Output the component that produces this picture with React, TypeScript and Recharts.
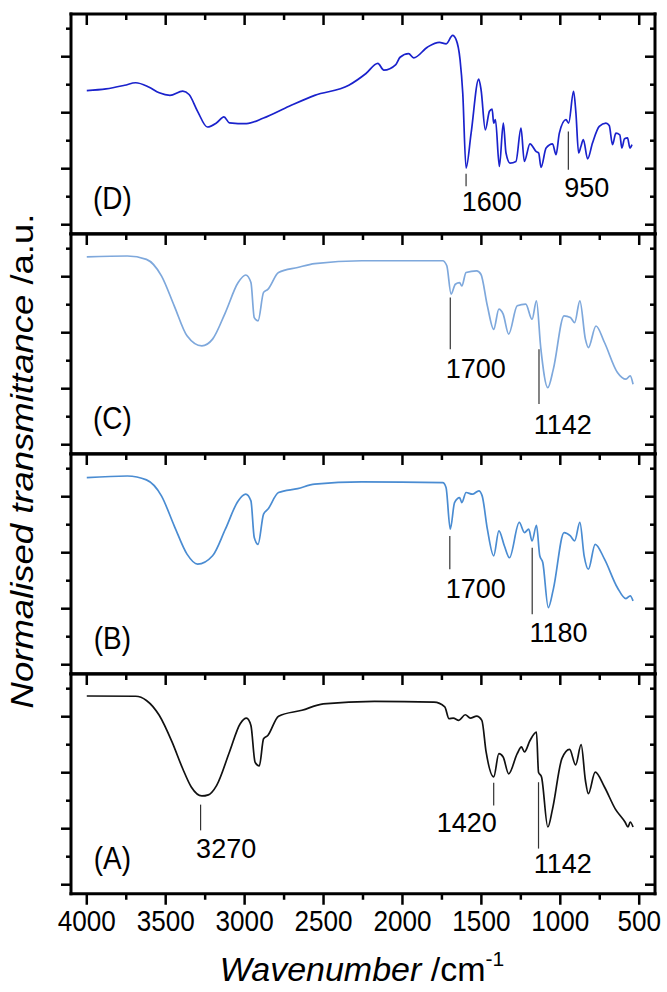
import React from 'react';
import { LineChart, Line, XAxis, YAxis, ReferenceLine, ReferenceDot } from 'recharts';

// ---------- data ----------
const xTicks = [4000, 3750, 3500, 3250, 3000, 2750, 2500, 2250, 2000, 1750, 1500, 1250, 1000, 750, 500];
const xTickLabels = [4000, 3500, 3000, 2500, 2000, 1500, 1000, 500];
const yTicks = [0, 1, 2, 3, 4, 5, 6, 7];

const wavenumberD = [4000, 3878, 3760, 3690, 3608, 3541, 3473, 3392, 3352, 3298, 3236, 3177, 3131, 3096, 2988, 2880, 2718, 2556, 2340, 2231, 2156, 2118, 2042, 2015, 1961, 1929, 1840, 1766, 1723, 1682, 1660, 1635, 1618, 1597, 1565, 1517, 1502, 1475, 1449, 1432, 1422, 1411, 1386, 1361, 1344, 1318, 1281, 1249, 1228, 1192, 1154, 1137, 1122, 1090, 1049, 1027, 1006, 964, 947, 916, 901, 884, 869, 854, 827, 796, 753, 711, 690, 669, 648, 623, 610, 593, 574, 559, 546];
const transmD = [4.79, 4.85, 4.98, 5.07, 4.92, 4.71, 4.62, 4.77, 4.65, 4.05, 3.49, 3.64, 3.85, 3.64, 3.61, 3.81, 4.23, 4.62, 4.98, 5.40, 5.76, 5.52, 5.72, 5.98, 6.11, 5.96, 6.35, 6.51, 6.46, 6.76, 6.61, 5.89, 4.70, 2.02, 3.27, 5.20, 4.82, 3.39, 4.05, 4.13, 3.63, 3.75, 2.08, 3.63, 2.56, 2.20, 2.26, 3.45, 2.26, 2.89, 2.62, 2.56, 2.05, 2.74, 2.89, 2.50, 3.27, 3.75, 3.63, 4.76, 3.99, 2.56, 2.80, 3.04, 2.35, 2.92, 3.51, 3.63, 3.54, 2.86, 3.27, 3.21, 2.74, 3.07, 3.10, 2.74, 2.86];

const wavenumberC = [4000, 3743, 3622, 3527, 3446, 3365, 3271, 3203, 3122, 3041, 2993, 2960, 2939, 2915, 2880, 2853, 2785, 2664, 2556, 2258, 1745, 1719, 1692, 1665, 1638, 1624, 1597, 1530, 1503, 1462, 1422, 1389, 1362, 1327, 1273, 1219, 1179, 1151, 1124, 1079, 1044, 976, 936, 909, 876, 841, 822, 774, 720, 638, 584, 557, 539];
const transmC = [6.71, 6.74, 6.62, 6.03, 4.96, 3.89, 3.53, 3.77, 4.72, 5.79, 6.06, 5.79, 4.54, 4.42, 5.44, 5.55, 6.15, 6.33, 6.47, 6.57, 6.57, 6.39, 5.38, 5.73, 5.79, 5.67, 6.15, 6.21, 6.09, 4.96, 4.12, 4.84, 4.66, 3.95, 4.96, 5.02, 4.48, 5.14, 3.47, 2.04, 2.70, 4.60, 4.54, 4.36, 5.14, 3.77, 3.47, 4.24, 3.65, 2.58, 2.34, 2.46, 2.16];

const wavenumberB = [4000, 3743, 3622, 3527, 3446, 3365, 3298, 3203, 3122, 3041, 2993, 2960, 2939, 2915, 2880, 2853, 2785, 2664, 2556, 2258, 1745, 1724, 1697, 1670, 1638, 1624, 1597, 1557, 1516, 1495, 1462, 1422, 1389, 1354, 1322, 1260, 1227, 1200, 1179, 1151, 1130, 1111, 1076, 1044, 976, 936, 909, 876, 849, 822, 779, 720, 638, 584, 557, 539];
const transmB = [6.68, 6.74, 6.60, 6.03, 4.96, 3.95, 3.59, 3.89, 4.84, 5.85, 6.09, 5.85, 4.54, 4.30, 5.38, 5.55, 6.15, 6.29, 6.45, 6.53, 6.50, 6.33, 4.84, 5.79, 5.97, 5.79, 6.15, 6.09, 6.21, 6.03, 4.84, 3.89, 4.78, 4.24, 3.82, 5.08, 4.72, 4.84, 4.42, 4.98, 3.89, 3.65, 2.04, 2.70, 4.72, 4.60, 4.42, 5.08, 3.89, 3.41, 4.30, 3.77, 2.75, 2.36, 2.46, 2.28];

const wavenumberA = [4000, 3690, 3622, 3541, 3460, 3392, 3338, 3271, 3230, 3177, 3096, 3028, 2988, 2960, 2934, 2907, 2880, 2853, 2785, 2637, 2502, 2178, 1800, 1732, 1705, 1678, 1643, 1602, 1570, 1530, 1497, 1470, 1422, 1389, 1362, 1327, 1273, 1246, 1227, 1192, 1151, 1138, 1119, 1079, 1049, 990, 941, 903, 868, 841, 822, 779, 720, 652, 590, 571, 557, 539];
const transmA = [6.74, 6.73, 6.58, 6.05, 5.10, 4.14, 3.49, 3.17, 3.21, 3.55, 4.74, 5.75, 5.95, 5.69, 4.38, 4.24, 5.21, 5.33, 6.02, 6.23, 6.46, 6.55, 6.52, 6.35, 5.93, 5.95, 5.87, 6.07, 5.95, 6.02, 5.87, 4.74, 3.85, 4.68, 4.56, 3.96, 4.68, 4.92, 4.74, 5.15, 5.45, 4.02, 3.85, 2.06, 2.71, 4.50, 4.83, 4.28, 5.00, 3.73, 3.25, 4.02, 3.49, 2.71, 2.24, 2.06, 2.24, 2.06];

// peak annotations: wavenumber of marker, marker top/bottom, label position
const peaksD = [
  { text: '1600', w: 1597, y1: 1.82, y2: 1.37, lw: 1434, ly: 0.83 },
  { text: '950', w: 949, y1: 3.33, y2: 1.96, lw: 832, ly: 1.35 },
];
const peaksC = [
  { text: '1700', w: 1697, y1: 5.26, y2: 3.41, lw: 1535, ly: 2.72 },
  { text: '1142', w: 1135, y1: 3.41, y2: 1.45, lw: 984, ly: 0.73 },
];
const peaksB = [
  { text: '1700', w: 1700, y1: 4.60, y2: 3.41, lw: 1535, ly: 2.72 },
  { text: '1180', w: 1178, y1: 4.18, y2: 1.80, lw: 1011, ly: 1.15 },
];
const peaksA = [
  { text: '3270', w: 3279, y1: 2.86, y2: 1.94, lw: 3117, ly: 1.31 },
  { text: '1420', w: 1422, y1: 3.64, y2: 2.83, lw: 1592, ly: 2.24 },
  { text: '1142', w: 1138, y1: 3.66, y2: 1.29, lw: 984, ly: 0.75 },
];

const zip = (w: number[], v: number[]) => w.map((x, i) => ({ w: x, v: v[i] }));

// ---------- layout ----------
const W = 667;
const PH = 219.75;
const X_DOMAIN: [number, number] = [400, 4100];
const Y_DOMAIN: [number, number] = [-0.323, 7.525];
const FONT = '"Liberation Sans", Arial, Helvetica, sans-serif';
const axisStyle = { stroke: '#000', strokeWidth: 3, strokeLinecap: 'square' as const };

const TopTick = (p: any) => {
  const major = p.payload.value % 500 === 0;
  return <line x1={p.x} x2={p.x} y1={p.y} y2={p.y + (major ? 11 : 6)} stroke="#000" strokeWidth={2.5} />;
};
const BottomTick = (p: any) => {
  const major = p.payload.value % 500 === 0;
  return <line x1={p.x} x2={p.x} y1={p.y} y2={p.y + (major ? 11 : 6)} stroke="#000" strokeWidth={2.5} />;
};
const NoTick = () => <g />;
const SideTick = (p: any) => {
  const major = p.payload.value % 2 === 0;
  return <line x1={p.x} x2={p.x - (major ? 10 : 5)} y1={p.y} y2={p.y} stroke="#000" strokeWidth={2.5} />;
};

function Panel(props: { top: number; data: { w: number; v: number }[]; color: string; letter: string; peaks: any[]; bottom?: boolean }) {
  const { top, data, color, letter, peaks, bottom } = props;
  const mt = 20;
  const mb = bottom ? 60 : 12;
  return (
    <div style={{ position: 'absolute', left: 0, top: top - mt }}>
      <LineChart width={W} height={mt + PH + mb} data={data} margin={{ top: mt - 1, right: 11, bottom: mb - 1, left: 70 }}>
        <XAxis xAxisId="t" orientation="top" type="number" dataKey="w" domain={X_DOMAIN} reversed allowDataOverflow ticks={xTicks} interval={0} height={1} tickSize={0} tickMargin={0} axisLine={axisStyle} tickLine={false} tick={TopTick} />
        <XAxis xAxisId="b" orientation="bottom" type="number" dataKey="w" domain={X_DOMAIN} reversed allowDataOverflow ticks={xTicks} interval={0} height={1} tickSize={0} tickMargin={0} axisLine={axisStyle} tickLine={false} tick={bottom ? BottomTick : NoTick} />
        <YAxis yAxisId="l" orientation="left" type="number" domain={Y_DOMAIN} allowDataOverflow ticks={yTicks} interval={0} width={1} tickSize={0} tickMargin={0} axisLine={axisStyle} tickLine={false} tick={SideTick} />
        <YAxis yAxisId="r" orientation="right" type="number" domain={Y_DOMAIN} allowDataOverflow ticks={yTicks} interval={0} width={1} tickSize={0} tickMargin={0} axisLine={axisStyle} tickLine={false} tick={SideTick} />
        <Line xAxisId="b" yAxisId="l" type="monotone" dataKey="v" stroke={color} strokeWidth={1.7} dot={false} isAnimationActive={false} />
        {peaks.map((a, i) => (
          <ReferenceLine key={'l' + i} xAxisId="b" yAxisId="l" segment={[{ x: a.w, y: a.y1 }, { x: a.w, y: a.y2 }]} stroke="#333" strokeWidth={1.2} />
        ))}
        {peaks.map((a, i) => (
          <ReferenceDot key={'t' + i} xAxisId="b" yAxisId="l" x={a.lw} y={a.ly} r={0}
            shape={(s: any) => (
              <text x={s.cx} y={s.cy} dy="0.36em" textAnchor="middle" fill="#000" style={{ fontSize: '27px', fontFamily: FONT }}>{a.text}</text>
            )} />
        ))}
        {bottom && xTickLabels.map((v) => (
          <ReferenceDot key={'x' + v} xAxisId="b" yAxisId="l" x={v} y={Y_DOMAIN[0]} r={0} ifOverflow="visible"
            shape={(s: any) => (
              <text transform={`translate(${s.cx},${s.cy + 37}) scale(0.9,1)`} textAnchor="middle" fill="#000" style={{ fontSize: '29px', fontFamily: FONT }}>{v}</text>
            )} />
        ))}
        <ReferenceDot xAxisId="b" yAxisId="l" x={3838} y={0.95} r={0}
          shape={(s: any) => (
            <text transform={`translate(${s.cx},${s.cy}) scale(0.9,1)`} dy="0.36em" textAnchor="middle" fill="#000" style={{ fontSize: '31px', fontFamily: FONT }}>{letter}</text>
          )} />
      </LineChart>
    </div>
  );
}

export default function App() {
  const tops = [14.3, 14.3 + PH, 14.3 + 2 * PH, 14.3 + 3 * PH];
  return (
    <div style={{ position: 'absolute', left: 0, top: 0, width: W, height: 992, background: '#fff', overflow: 'hidden' }}>
      <Panel top={tops[0]} data={zip(wavenumberD, transmD)} color="#1a22cc" letter="(D)" peaks={peaksD} />
      <Panel top={tops[1]} data={zip(wavenumberC, transmC)} color="#7ea8dc" letter="(C)" peaks={peaksC} />
      <Panel top={tops[2]} data={zip(wavenumberB, transmB)} color="#4a8cd2" letter="(B)" peaks={peaksB} />
      <Panel top={tops[3]} data={zip(wavenumberA, transmA)} color="#111111" letter="(A)" peaks={peaksA} bottom />
      <svg width={W} height={992} style={{ position: 'absolute', left: 0, top: 0, pointerEvents: 'none' }}>
        <text transform="translate(33,461) scale(0.85,1) rotate(-90)" textAnchor="middle" fill="#000" style={{ fontSize: '36.5px', fontFamily: FONT }}>
          <tspan fontStyle="italic">Normalised transmittance</tspan>
          <tspan> /a.u.</tspan>
        </text>
        <text x={362} y={981} textAnchor="middle" fill="#000" style={{ fontSize: '34px', fontFamily: FONT }}>
          <tspan fontStyle="italic">Wavenumber</tspan>
          <tspan> /cm</tspan>
          <tspan fontSize={21} dy={-15}>-1</tspan>
        </text>
      </svg>
    </div>
  );
}
